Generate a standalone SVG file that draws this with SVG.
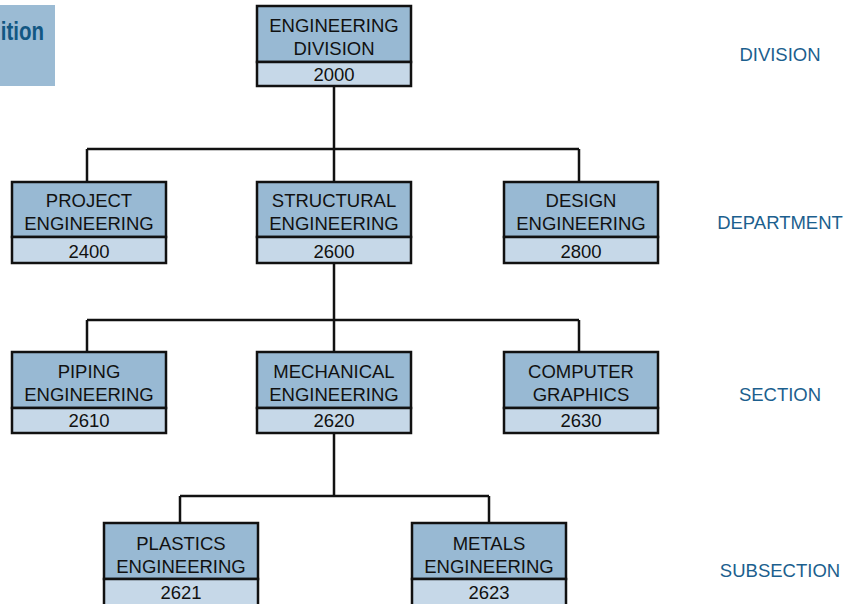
<svg xmlns="http://www.w3.org/2000/svg" width="851" height="604" viewBox="0 0 851 604">
<style>
.top{fill:#98b9d3;stroke:#111;stroke-width:2.5}
.bot{fill:#c6d8e8;stroke:#111;stroke-width:2.5}
.t{font-family:"Liberation Sans",Arial,sans-serif;font-size:18.5px;fill:#111;text-anchor:middle}
.lvl{font-family:"Liberation Sans",Arial,sans-serif;font-size:18.5px;fill:#1c5f8e;text-anchor:middle}
.c{fill:none;stroke:#111;stroke-width:2.5}
</style>
<rect width="851" height="604" fill="#fff"/>
<g id="corner">
<rect x="0" y="5" width="55" height="81" fill="#9bbbd4"/>
<text transform="translate(44 40) scale(0.82 1)" font-family="'Liberation Sans',Arial,sans-serif" font-weight="bold" font-size="25" fill="#125783" text-anchor="end">ition</text>
</g>
<g id="connectors" class="c">
<path class="c" d="M334 87V149M87 149H579M87 149V182M334 149V182M579 149V182"/>
<path class="c" d="M334 264V320M87 320H579M87 320V352M334 320V352M579 320V352"/>
<path class="c" d="M334 434V496M180 496H489M180 496V523M489 496V523"/>
</g>
<g id="n2000"><rect class="top" x="257" y="6" width="154" height="56"/><rect class="bot" x="257" y="62" width="154" height="24"/><text class="t" x="334" y="32">ENGINEERING</text><text class="t" x="334" y="55">DIVISION</text><text class="t" x="334" y="81">2000</text></g>
<g id="n2400"><rect class="top" x="12" y="182" width="154" height="55"/><rect class="bot" x="12" y="237" width="154" height="26"/><text class="t" x="89" y="207">PROJECT</text><text class="t" x="89" y="230">ENGINEERING</text><text class="t" x="89" y="258">2400</text></g>
<g id="n2600"><rect class="top" x="257" y="182" width="154" height="55"/><rect class="bot" x="257" y="237" width="154" height="26"/><text class="t" x="334" y="207">STRUCTURAL</text><text class="t" x="334" y="230">ENGINEERING</text><text class="t" x="334" y="258">2600</text></g>
<g id="n2800"><rect class="top" x="504" y="182" width="154" height="55"/><rect class="bot" x="504" y="237" width="154" height="26"/><text class="t" x="581" y="207">DESIGN</text><text class="t" x="581" y="230">ENGINEERING</text><text class="t" x="581" y="258">2800</text></g>
<g id="n2610"><rect class="top" x="12" y="352" width="154" height="56"/><rect class="bot" x="12" y="408" width="154" height="25"/><text class="t" x="89" y="378">PIPING</text><text class="t" x="89" y="401">ENGINEERING</text><text class="t" x="89" y="427">2610</text></g>
<g id="n2620"><rect class="top" x="257" y="352" width="154" height="56"/><rect class="bot" x="257" y="408" width="154" height="25"/><text class="t" x="334" y="378">MECHANICAL</text><text class="t" x="334" y="401">ENGINEERING</text><text class="t" x="334" y="427">2620</text></g>
<g id="n2630"><rect class="top" x="504" y="352" width="154" height="56"/><rect class="bot" x="504" y="408" width="154" height="25"/><text class="t" x="581" y="378">COMPUTER</text><text class="t" x="581" y="401">GRAPHICS</text><text class="t" x="581" y="427">2630</text></g>
<g id="n2621"><rect class="top" x="104" y="523" width="154" height="56"/><rect class="bot" x="104" y="579" width="154" height="27"/><text class="t" x="181" y="550">PLASTICS</text><text class="t" x="181" y="573">ENGINEERING</text><text class="t" x="181" y="599">2621</text></g>
<g id="n2623"><rect class="top" x="412" y="523" width="154" height="56"/><rect class="bot" x="412" y="579" width="154" height="27"/><text class="t" x="489" y="550">METALS</text><text class="t" x="489" y="573">ENGINEERING</text><text class="t" x="489" y="599">2623</text></g>
<g id="levels">
<text class="lvl" x="780" y="61">DIVISION</text>
<text class="lvl" x="780" y="229">DEPARTMENT</text>
<text class="lvl" x="780" y="401">SECTION</text>
<text class="lvl" x="780" y="577">SUBSECTION</text>
</g>
</svg>
